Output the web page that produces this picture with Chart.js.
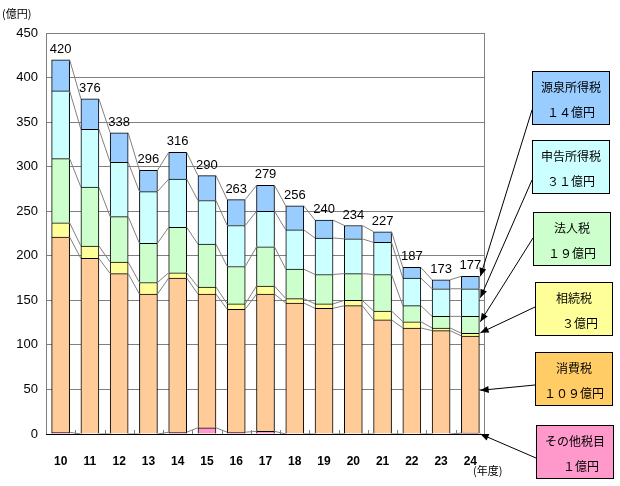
<!DOCTYPE html>
<html lang="ja">
<head>
<meta charset="utf-8">
<title>税目別税収の推移</title>
<script src="https://cdn.jsdelivr.net/npm/chart.js@4/dist/chart.umd.min.js"></script>
<style>
    body { margin: 0; background: #fff; }
    #wrap { width: 620px; height: 486px; }
</style>
</head>
<body>
<div id="wrap"><canvas id="taxChart" width="620" height="486"></canvas></div>
<script>
// Categories (年度)
const years = ['10', '11', '12', '13', '14', '15', '16', '17', '18', '19', '20', '21', '22', '23', '24'];

// Series values (億円), bottom to top
const otherTax       = [2, 0, 0, 0, 2, 7, 2, 3, 0, 0, 0, 0, 0, 0, 1];
const consumptionTax = [219, 197, 180, 157, 173, 150, 138, 154, 147, 141, 144, 128, 119, 116, 109];
const inheritanceTax = [16, 14, 13, 13, 6, 8, 6, 9, 5, 5, 6, 10, 7, 3, 3];
const corporateTax   = [72, 66, 51, 44, 51, 48, 42, 44, 33, 33, 30, 41, 18, 13, 19];
const declaredTax    = [76, 65, 61, 58, 54, 49, 46, 40, 44, 41, 39, 36, 31, 31, 31];
const withholdingTax = [35, 34, 33, 24, 30, 28, 29, 29, 27, 20, 15, 12, 12, 10, 14];

// Totals shown above bars
const totals = [420, 376, 338, 296, 316, 290, 263, 279, 256, 240, 234, 227, 187, 173, 177];

// Y axis ticks
const yTicks = [0, 50, 100, 150, 200, 250, 300, 350, 400, 450];

// Legend boxes on the right (label, value text)
const boxNames  = ['源泉所得税', '申告所得税', '法人税', '相続税', '消費税', 'その他税目'];
const boxValues = ['１４億円', '３１億円', '１９億円', '　３億円', '１０９億円', '　１億円'];
// value each arrow points to on the last bar
const arrowTargets = [177, 153, 126, 113.5, 49, 0];

const colors = {
    other: '#FF99CC',
    consumption: '#FFCC99',
    inheritance: '#FFFF99',
    corporate: '#CCFFCC',
    declared: '#CCFFFF',
    withholding: '#99CCFF'
};
const boxColors = ['#99CCFF', '#CCFFFF', '#CCFFCC', '#FFFF99', '#FFCC66', '#FF99CC'];
const boxRects = [
    { x: 532, y: 71, start: 110 },
    { x: 532, y: 140, start: 180 },
    { x: 533, y: 212, start: 238 },
    { x: 535, y: 282, start: 307 },
    { x: 535, y: 352, start: 385 },
    { x: 536, y: 425, start: 458 }
];

const jpFont = '"Noto Sans CJK JP", sans-serif';
const numFont = '"Liberation Sans", Arial, sans-serif';

function makeSet(label, data, color) {
    return {
        label: label,
        data: data,
        backgroundColor: color,
        borderColor: '#000',
        // no bottom edge so stacked segments share a single 1px line
        borderWidth: { top: 1, left: 1, right: 1, bottom: 0 },
        borderSkipped: false,
        barThickness: 18,
        categoryPercentage: 1.0
    };
}

// Draws series lines, frame, totals, legend boxes and arrows
const decorPlugin = {
    id: 'decor',
    beforeDatasetsDraw(chart) {
        const ctx = chart.ctx;
        const area = chart.chartArea;
        ctx.save();
        ctx.strokeStyle = '#808080';
        ctx.lineWidth = 1;
        // frame
        ctx.strokeRect(area.left + 0.5, area.top + 0.5, area.right - area.left - 1, area.bottom - area.top);
        // small ticks on the x axis between categories
        const step = (area.right - area.left) / years.length;
        ctx.beginPath();
        for (let i = 1; i < years.length; i++) {
            const x = Math.round(area.left + step * i) + 0.5;
            ctx.moveTo(x, area.bottom);
            ctx.lineTo(x, area.bottom - 4);
        }
        ctx.stroke();
        ctx.restore();
    },
    afterDatasetsDraw(chart) {
        const ctx = chart.ctx;
        const ys = chart.scales.y;
        const area = chart.chartArea;
        const n = chart.data.datasets.length;
        ctx.save();
        // series lines connecting stack boundaries
        ctx.strokeStyle = '#808080';
        ctx.lineWidth = 1;
        const cum = years.map(() => 0);
        for (let d = 0; d < n; d++) {
            const ds = chart.data.datasets[d];
            const meta = chart.getDatasetMeta(d);
            for (let i = 0; i < years.length; i++) cum[i] += ds.data[i];
            ctx.beginPath();
            for (let i = 0; i < years.length - 1; i++) {
                const a = meta.data[i], b = meta.data[i + 1];
                ctx.moveTo(a.x + a.width / 2, ys.getPixelForValue(cum[i]));
                ctx.lineTo(b.x - b.width / 2, ys.getPixelForValue(cum[i + 1]));
            }
            ctx.stroke();
        }
        // axis line at the bottom
        ctx.strokeStyle = '#000';
        ctx.beginPath();
        ctx.moveTo(area.left, Math.round(area.bottom) + 0.5);
        ctx.lineTo(area.right, Math.round(area.bottom) + 0.5);
        ctx.stroke();

        // totals above bars
        const topMeta = chart.getDatasetMeta(n - 1);
        ctx.fillStyle = '#000';
        ctx.font = '13px ' + numFont;
        ctx.textAlign = 'center';
        ctx.textBaseline = 'bottom';
        totals.forEach((t, i) => {
            ctx.fillText(String(t), topMeta.data[i].x, ys.getPixelForValue(t) - 4);
        });

        // legend boxes
        const last = topMeta.data[years.length - 1];
        const tipX = last.x + last.width / 2 + 1;
        boxRects.forEach((r, k) => {
            ctx.fillStyle = boxColors[k];
            ctx.fillRect(r.x, r.y, 77, 53);
            ctx.strokeStyle = '#000';
            ctx.strokeRect(r.x + 0.5, r.y + 0.5, 77, 53);
            ctx.fillStyle = '#000';
            ctx.font = '12px ' + jpFont;
            ctx.textBaseline = 'middle';
            ctx.textAlign = 'center';
            ctx.fillText(boxNames[k], r.x + 39, r.y + 16);
            ctx.fillText(boxValues[k], r.x + 39, r.y + 41);

            // arrow
            const ty = ys.getPixelForValue(arrowTargets[k]);
            const sx = r.x, sy = r.start;
            const ang = Math.atan2(ty - sy, tipX - sx);
            ctx.beginPath();
            ctx.moveTo(sx, sy);
            ctx.lineTo(tipX, ty);
            ctx.stroke();
            ctx.beginPath();
            ctx.moveTo(tipX, ty);
            ctx.lineTo(tipX - 9 * Math.cos(ang - 0.4), ty - 9 * Math.sin(ang - 0.4));
            ctx.lineTo(tipX - 9 * Math.cos(ang + 0.4), ty - 9 * Math.sin(ang + 0.4));
            ctx.closePath();
            ctx.fill();
        });

        // unit labels
        ctx.fillStyle = '#000';
        ctx.font = '11px ' + jpFont;
        ctx.textAlign = 'left';
        ctx.textBaseline = 'middle';
        ctx.fillText('(億円)', 2, 14);
        ctx.fillText('(年度)', 473, 471);
        ctx.restore();
    }
};

document.addEventListener('DOMContentLoaded', function() {
    const ctx = document.getElementById('taxChart');
    new Chart(ctx, {
        type: 'bar',
        data: {
            labels: years,
            datasets: [
                makeSet('その他税目', otherTax, colors.other),
                makeSet('消費税', consumptionTax, colors.consumption),
                makeSet('相続税', inheritanceTax, colors.inheritance),
                makeSet('法人税', corporateTax, colors.corporate),
                makeSet('申告所得税', declaredTax, colors.declared),
                makeSet('源泉所得税', withholdingTax, colors.withholding)
            ]
        },
        options: {
            responsive: false,
            animation: false,
            layout: {
                padding: { top: 33, right: 135, left: 0, bottom: 0 }
            },
            plugins: {
                legend: { display: false },
                tooltip: { enabled: false }
            },
            scales: {
                x: {
                    stacked: true,
                    grid: { display: false },
                    border: { display: false },
                    ticks: {
                        color: '#000',
                        padding: 12,
                        font: { family: numFont, size: 12, weight: 'bold' }
                    },
                    afterFit: function(scale) { scale.height = 52; }
                },
                y: {
                    stacked: true,
                    min: 0,
                    max: 450,
                    afterBuildTicks: function(scale) {
                        scale.ticks = yTicks.map(v => ({ value: v }));
                    },
                    grid: {
                        color: '#808080',
                        drawTicks: false
                    },
                    border: { display: false },
                    ticks: {
                        color: '#000',
                        padding: 8,
                        font: { family: numFont, size: 13 }
                    },
                    afterFit: function(scale) { scale.width = 46; }
                }
            }
        },
        plugins: [decorPlugin]
    });
});
</script>
</body>
</html>
